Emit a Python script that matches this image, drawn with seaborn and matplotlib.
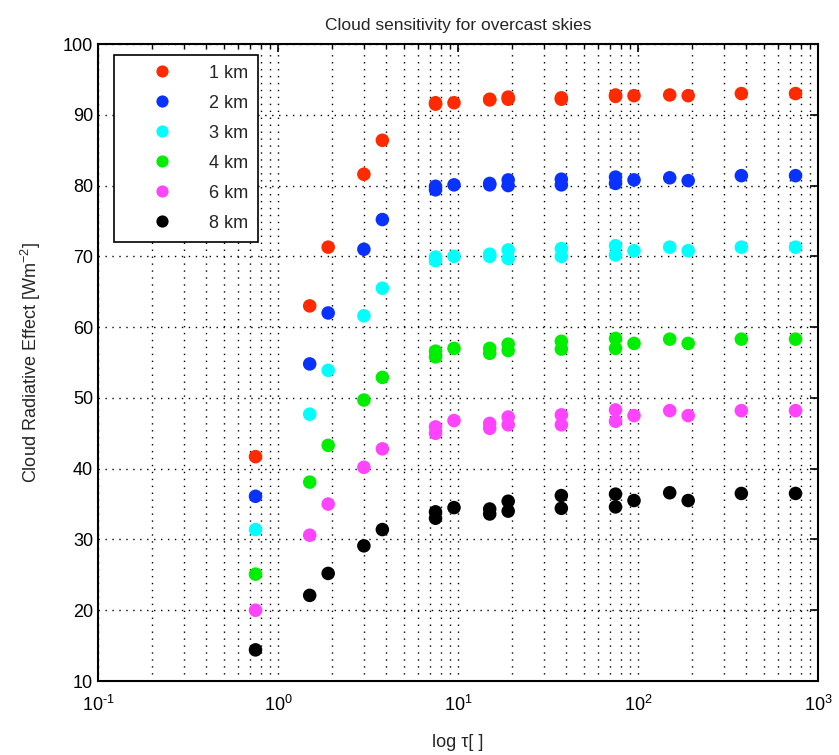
import numpy as np
import pandas as pd
import matplotlib
matplotlib.use("Agg")
import matplotlib.pyplot as plt
import seaborn as sns
from matplotlib.ticker import LogLocator, FixedLocator

tau = [0.75, 1.5, 1.9, 3, 3.8, 7.5, 7.5, 9.5, 15, 15, 19, 19, 37.5, 37.5,
       75, 75, 95, 150, 190, 375, 750]
cre_1km = [41.7, 63.0, 71.3, 81.6, 86.4, 91.5, 91.7, 91.7, 92.1, 92.2, 92.2, 92.5,
           92.2, 92.4, 92.6, 92.8, 92.7, 92.8, 92.7, 93.0, 93.0]
cre_2km = [36.1, 54.8, 62.0, 71.0, 75.2, 79.4, 79.9, 80.1, 80.1, 80.3, 80.0, 80.8,
           80.1, 80.9, 80.3, 81.2, 80.8, 81.1, 80.7, 81.4, 81.4]
cre_3km = [31.4, 47.7, 53.9, 61.6, 65.5, 69.4, 69.9, 70.0, 70.0, 70.3, 69.7, 70.9,
           70.0, 71.1, 70.2, 71.5, 70.8, 71.3, 70.8, 71.3, 71.3]
cre_4km = [25.1, 38.1, 43.3, 49.7, 52.9, 55.8, 56.6, 57.0, 56.3, 57.0, 56.7, 57.6,
           56.9, 58.0, 57.0, 58.4, 57.7, 58.3, 57.7, 58.3, 58.3]
cre_6km = [20.0, 30.6, 35.0, 40.2, 42.8, 45.0, 45.9, 46.8, 45.7, 46.4, 46.2, 47.3,
           46.2, 47.6, 46.7, 48.3, 47.5, 48.2, 47.5, 48.2, 48.2]
cre_8km = [14.4, 22.1, 25.2, 29.1, 31.4, 33.0, 33.9, 34.5, 33.6, 34.3, 34.0, 35.4,
           34.4, 36.2, 34.6, 36.4, 35.5, 36.6, 35.5, 36.5, 36.5]

heights = ["1 km", "2 km", "3 km", "4 km", "6 km", "8 km"]
series = [cre_1km, cre_2km, cre_3km, cre_4km, cre_6km, cre_8km]
colors = ["#ff2a00", "#0a32ff", "#00ffff", "#00ee00", "#ff44ff", "#000000"]
xtick_labels = ["10$^{‐1}$", "10$^{0}$", "10$^{1}$", "10$^{2}$", "10$^{3}$"]

df = pd.DataFrame({
    "tau": np.tile(tau, len(heights)),
    "cre": np.concatenate(series),
    "height": np.repeat(heights, len(tau)),
})

sns.set_theme(style="white")
plt.rcParams["font.family"] = ["Liberation Sans", "DejaVu Sans"]
plt.rcParams["mathtext.default"] = "regular"
plt.rcParams["axes.unicode_minus"] = False

fig = plt.figure(figsize=(8.39, 7.55), dpi=100)
ax = fig.add_axes([0.1168, 0.098, 0.975 - 0.1168, 0.9417 - 0.098])

sns.scatterplot(data=df, x="tau", y="cre", hue="height", hue_order=heights,
                palette=colors, s=95, linewidth=0, ax=ax, legend=True)

ax.set_xscale("log")
ax.set_xlim(0.1, 1000)
ax.set_ylim(10, 100)
ax.set_yticks(np.arange(10, 101, 10))
ax.xaxis.set_major_locator(FixedLocator([0.1, 1, 10, 100, 1000]))
ax.set_xticklabels(xtick_labels)
ax.xaxis.set_minor_locator(LogLocator(base=10, subs=np.arange(2, 10), numticks=20))

ax.grid(True, which="major", linestyle=(0, (1, 4)), color="black", linewidth=1.0)
ax.grid(True, which="minor", axis="x", linestyle=(0, (1, 4)), color="black", linewidth=1.0)
ax.tick_params(which="both", direction="in", top=True, right=True, colors="black",
               labelsize=13)
ax.tick_params(which="major", length=6, width=1.2)
ax.tick_params(which="minor", length=3, width=1.0)
ax.tick_params(axis="x", pad=10)
for sp in ax.spines.values():
    sp.set_color("black")
    sp.set_linewidth(1.5)

ax.set_xlabel("log τ[ ]", fontsize=13, labelpad=14)
ax.set_ylabel("Cloud Radiative Effect [Wm$^{-2}$]", fontsize=13, labelpad=14)
ax.set_title("Cloud sensitivity for overcast skies", fontsize=12.5, pad=10)

leg = ax.legend(loc="upper left", bbox_to_anchor=(0.022, 0.983), frameon=True,
                fancybox=False, edgecolor="black", framealpha=1, fontsize=13,
                markerscale=0.9, handletextpad=0.5, labelspacing=0.72,
                borderpad=0.55, handlelength=4.2, borderaxespad=0)
leg.get_frame().set_linewidth(1.2)

fig.savefig("out.png", dpi=100)
